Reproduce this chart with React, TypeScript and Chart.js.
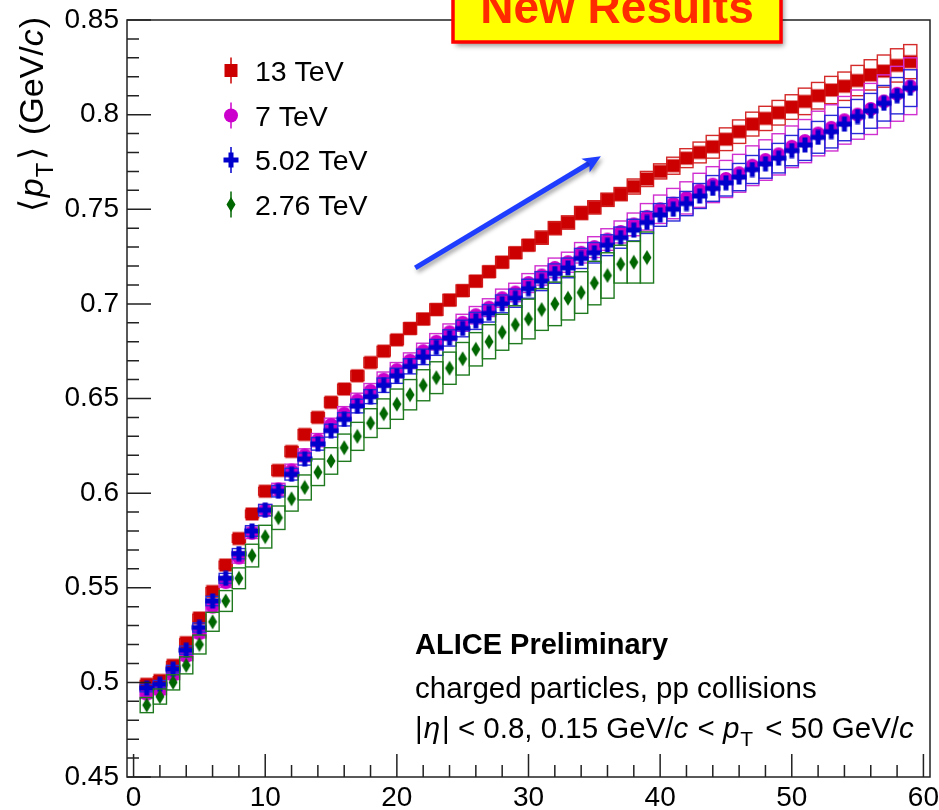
import React, { useEffect, useRef } from "react";
import { Chart, registerables } from "chart.js";

Chart.register(...registerables);

// ---------------- data ----------------
const multiplicityBins = [
  1, 2, 3, 4, 5, 6, 7, 8, 9, 10, 11, 12, 13, 14, 15, 16, 17, 18, 19, 20,
  21, 22, 23, 24, 25, 26, 27, 28, 29, 30, 31, 32, 33, 34, 35, 36, 37, 38, 39, 40,
  41, 42, 43, 44, 45, 46, 47, 48, 49, 50, 51, 52, 53, 54, 55, 56, 57, 58, 59,
];
const binHalfWidth = 0.5;

const meanPt13 = [
  0.499, 0.501, 0.509, 0.521, 0.534, 0.548, 0.562, 0.576, 0.589, 0.601,
  0.612, 0.622, 0.631, 0.640, 0.648, 0.655, 0.662, 0.669, 0.675, 0.681,
  0.687, 0.692, 0.697, 0.702, 0.707, 0.712, 0.717, 0.722, 0.727, 0.731,
  0.735, 0.740, 0.743, 0.748, 0.751, 0.755, 0.758, 0.762, 0.766, 0.770,
  0.773, 0.777, 0.780, 0.783, 0.787, 0.791, 0.795, 0.798, 0.801, 0.804,
  0.807, 0.810, 0.813, 0.815, 0.818, 0.821, 0.823, 0.826, 0.828,
];
const sys13 = [
  0.002, 0.002, 0.002, 0.002, 0.002, 0.002, 0.002, 0.002, 0.002, 0.002,
  0.0025, 0.0025, 0.0025, 0.0025, 0.0025, 0.0025, 0.0025, 0.0025, 0.0025, 0.0025,
  0.003, 0.003, 0.003, 0.003, 0.003, 0.003, 0.003, 0.003, 0.003, 0.003,
  0.0035, 0.0035, 0.0035, 0.0035, 0.0035, 0.0035, 0.0035, 0.004, 0.004, 0.004,
  0.0045, 0.005, 0.0055, 0.006, 0.006, 0.0062, 0.0063, 0.0064, 0.0065, 0.0065,
  0.007, 0.007, 0.0072, 0.0075, 0.008, 0.008, 0.0085, 0.0088, 0.009,
];

const meanPt7 = [
  0.494, 0.496, 0.504, 0.514, 0.526, 0.540, 0.553, 0.566, 0.579, 0.591,
  0.602, 0.612, 0.620, 0.628, 0.636, 0.642, 0.649, 0.654, 0.660, 0.665,
  0.670, 0.675, 0.680, 0.685, 0.690, 0.694, 0.698, 0.703, 0.706, 0.711,
  0.715, 0.719, 0.722, 0.727, 0.730, 0.734, 0.738, 0.742, 0.746, 0.750,
  0.753, 0.756, 0.760, 0.763, 0.766, 0.769, 0.773, 0.776, 0.779, 0.783,
  0.786, 0.790, 0.793, 0.797, 0.800, 0.803, 0.807, 0.811, 0.815,
];
const sys7 = [
  0.0025, 0.0025, 0.0025, 0.0025, 0.0025, 0.0028, 0.0028, 0.003, 0.003, 0.003,
  0.0032, 0.0033, 0.0034, 0.0035, 0.0036, 0.0037, 0.0038, 0.0039, 0.004, 0.004,
  0.0041, 0.0042, 0.0043, 0.0044, 0.0045, 0.0046, 0.0047, 0.0048, 0.0049, 0.005,
  0.0051, 0.0052, 0.0053, 0.0054, 0.0055, 0.0057, 0.0058, 0.006, 0.007, 0.0075,
  0.008, 0.0085, 0.009, 0.0095, 0.0098, 0.010, 0.0105, 0.0107, 0.0109, 0.011,
  0.0114, 0.0118, 0.0122, 0.0126, 0.013, 0.0135, 0.014, 0.0145, 0.015,
];

const meanPt502 = [
  0.497, 0.499, 0.507, 0.517, 0.529, 0.543, 0.555, 0.568, 0.580, 0.591,
  0.601, 0.610, 0.618, 0.626, 0.633, 0.639, 0.646, 0.651, 0.657, 0.662,
  0.667, 0.672, 0.677, 0.682, 0.687, 0.691, 0.695, 0.700, 0.703, 0.708,
  0.712, 0.716, 0.719, 0.724, 0.727, 0.731, 0.735, 0.739, 0.743, 0.747,
  0.750, 0.753, 0.757, 0.761, 0.764, 0.767, 0.771, 0.774, 0.777, 0.781,
  0.784, 0.788, 0.791, 0.795, 0.799, 0.802, 0.806, 0.810, 0.814,
];
const sys502 = [
  0.002, 0.002, 0.002, 0.0022, 0.0024, 0.0025, 0.0026, 0.0027, 0.0028, 0.003,
  0.003, 0.0031, 0.0032, 0.0033, 0.0034, 0.0035, 0.0036, 0.0037, 0.0038, 0.004,
  0.004, 0.0041, 0.0042, 0.0043, 0.0044, 0.0045, 0.0046, 0.0047, 0.0048, 0.005,
  0.005, 0.0051, 0.0052, 0.0053, 0.0054, 0.0055, 0.0056, 0.0057, 0.0058, 0.006,
  0.0062, 0.0064, 0.0066, 0.0068, 0.007, 0.0072, 0.0074, 0.0076, 0.0078, 0.008,
  0.0082, 0.0084, 0.0086, 0.0088, 0.009, 0.0092, 0.0094, 0.0096, 0.0097,
];

const meanPt276 = [
  0.488, 0.4925, 0.500, 0.509, 0.520, 0.532, 0.543, 0.555, 0.567, 0.577,
  0.587, 0.597, 0.603, 0.611, 0.617, 0.624, 0.630, 0.637, 0.642, 0.647,
  0.652, 0.657, 0.661, 0.666, 0.671, 0.676, 0.680, 0.685, 0.689, 0.692,
  0.697, 0.700, 0.703, 0.706, 0.711, 0.715, 0.721, 0.722, 0.7245,
];
const sys276 = [
  0.004, 0.004, 0.004, 0.0045, 0.005, 0.005, 0.0055, 0.0055, 0.006, 0.006,
  0.0062, 0.0065, 0.0066, 0.007, 0.007, 0.0072, 0.0074, 0.0076, 0.0078, 0.008,
  0.008, 0.0082, 0.0084, 0.0085, 0.0086, 0.0088, 0.009, 0.0095, 0.010, 0.0105,
  0.011, 0.0115, 0.0115, 0.011, 0.0115, 0.012, 0.010, 0.011, 0.0135,
];

const seriesLabels = ["13 TeV", "7 TeV", "5.02 TeV", "2.76 TeV"];
const xTickValues = [0, 10, 20, 30, 40, 50, 60];
const xTickLabels = ["0", "10", "20", "30", "40", "50", "60"];
const yTickValues = [0.45, 0.5, 0.55, 0.6, 0.65, 0.7, 0.75, 0.8, 0.85];
const yTickLabels = ["0.45", "0.5", "0.55", "0.6", "0.65", "0.7", "0.75", "0.8", "0.85"];
const arrowFrom = { x: 21.4, y: 0.719 };
const arrowTo = { x: 35.5, y: 0.778 };

// ---------------- styling ----------------
const FONT = "'Liberation Sans', Arial, Helvetica, sans-serif";
const SERIES = [
  { label: seriesLabels[0], values: meanPt13, sys: sys13, color: "#cc0000", box: "#d42a2a", marker: "square", order: 4 },
  { label: seriesLabels[1], values: meanPt7, sys: sys7, color: "#cc00cc", box: "#d030d0", marker: "circle", order: 3 },
  { label: seriesLabels[2], values: meanPt502, sys: sys502, color: "#0000cc", box: "#2a2ad8", marker: "cross", order: 2 },
  { label: seriesLabels[3], values: meanPt276, sys: sys276, color: "#006600", box: "#1f7a1f", marker: "diamond", order: 1 },
];

function drawShape(g: CanvasRenderingContext2D, kind: string, cx: number, cy: number) {
  g.beginPath();
  if (kind === "square") {
    g.rect(cx - 6.5, cy - 6.5, 13, 13);
  } else if (kind === "circle") {
    g.arc(cx, cy, 7, 0, Math.PI * 2);
  } else if (kind === "cross") {
    g.rect(cx - 7.5, cy - 2.5, 15, 5);
    g.rect(cx - 2.5, cy - 7.5, 5, 15);
  } else {
    g.moveTo(cx, cy - 7.5);
    g.lineTo(cx + 4.5, cy);
    g.lineTo(cx, cy + 7.5);
    g.lineTo(cx - 4.5, cy);
    g.closePath();
  }
  g.fill();
}

function makeMarker(kind: string, color: string) {
  const c = document.createElement("canvas");
  c.width = 16;
  c.height = 16;
  const g = c.getContext("2d")!;
  g.fillStyle = color;
  drawShape(g, kind, 8, 8);
  return c;
}

type Piece = { t: string; s: string; gap?: number };

function drawPieces(
  ctx: CanvasRenderingContext2D,
  pieces: Piece[],
  x: number,
  y: number,
  size: number,
  measureOnly = false
) {
  let cx = x;
  for (const p of pieces) {
    let font = `${size}px ${FONT}`;
    let dy = 0;
    if (p.s === "i") font = `italic ${size}px ${FONT}`;
    if (p.s === "sub") {
      font = `${Math.round(size * 0.7)}px ${FONT}`;
      dy = size * 0.28;
    }
    ctx.font = font;
    if (!measureOnly) ctx.fillText(p.t, cx, y + dy);
    cx += ctx.measureText(p.t).width + (p.gap || 0);
  }
  return cx - x;
}

const overlayPlugin = {
  id: "overlay",
  beforeDatasetDraw(chart: any, args: any) {
    const s = SERIES[args.index];
    if (!s) return;
    const xs = chart.scales.x;
    const ys = chart.scales.y;
    const ctx: CanvasRenderingContext2D = chart.ctx;
    ctx.save();
    ctx.strokeStyle = s.box;
    ctx.lineWidth = 1.4;
    s.values.forEach((v: number, k: number) => {
      const xv = multiplicityBins[k];
      const e = s.sys[k];
      const x0 = xs.getPixelForValue(xv - binHalfWidth);
      const x1 = xs.getPixelForValue(xv + binHalfWidth);
      const y0 = ys.getPixelForValue(v + e);
      const y1 = ys.getPixelForValue(v - e);
      ctx.strokeRect(x0, y0, x1 - x0, y1 - y0);
    });
    ctx.restore();
  },
  afterDraw(chart: any) {
    const ctx: CanvasRenderingContext2D = chart.ctx;
    const { left, right, top, bottom } = chart.chartArea;
    const xs = chart.scales.x;
    const ys = chart.scales.y;
    ctx.save();

    // frame
    ctx.strokeStyle = "#222";
    ctx.lineWidth = 1.5;
    ctx.strokeRect(left, top, right - left, bottom - top);

    // x ticks (inside)
    ctx.beginPath();
    for (let i = 0; i <= 30; i++) {
      const v = i * 2;
      const px = xs.getPixelForValue(v);
      const len = v % 10 === 0 ? 23 : 12;
      ctx.moveTo(px, bottom);
      ctx.lineTo(px, bottom - len);
    }
    // y ticks (inside)
    for (let i = 0; i <= 40; i++) {
      const v = 0.45 + i * 0.01;
      const py = ys.getPixelForValue(v);
      const len = i % 5 === 0 ? 24 : 12;
      ctx.moveTo(left, py);
      ctx.lineTo(left + len, py);
    }
    ctx.stroke();

    // y title
    ctx.save();
    ctx.fillStyle = "#000";
    ctx.textBaseline = "alphabetic";
    const titlePieces: Piece[] = [
      { t: "\u27E8", s: "n", gap: 2 },
      { t: "p", s: "i", gap: 1 },
      { t: "T", s: "sub", gap: 3 },
      { t: "\u27E9", s: "n", gap: 2 },
      { t: " (GeV/", s: "n" },
      { t: "c", s: "i", gap: 1 },
      { t: ")", s: "n" },
    ];
    const tw = drawPieces(ctx, titlePieces, 0, 0, 34, true);
    ctx.translate(43, 17);
    ctx.rotate(-Math.PI / 2);
    drawPieces(ctx, titlePieces, -tw, 0, 34);
    ctx.restore();

    // legend
    const legendY = [70.5, 115.5, 160, 204.5];
    SERIES.forEach((s, i) => {
      const cx = 231;
      const cy = legendY[i];
      ctx.strokeStyle = s.color;
      ctx.lineWidth = 1.5;
      ctx.beginPath();
      ctx.moveTo(cx, cy - 13);
      ctx.lineTo(cx, cy + 13);
      ctx.stroke();
      ctx.fillStyle = s.color;
      drawShape(ctx, s.marker, cx, cy);
      ctx.fillStyle = "#000";
      ctx.font = `28.5px ${FONT}`;
      ctx.textBaseline = "alphabetic";
      ctx.fillText(s.label, 255, cy + 10);
    });

    // ALICE text
    ctx.fillStyle = "#000";
    ctx.font = `bold 29px ${FONT}`;
    ctx.fillText("ALICE Preliminary", 415, 654);
    ctx.font = `29.5px ${FONT}`;
    ctx.fillText("charged particles, pp collisions", 415, 698);
    drawPieces(
      ctx,
      [
        { t: "|", s: "n", gap: 1 },
        { t: "\u03B7", s: "i", gap: 2 },
        { t: "| < 0.8, 0.15 GeV/", s: "n" },
        { t: "c", s: "i", gap: 1 },
        { t: " < ", s: "n" },
        { t: "p", s: "i", gap: 1 },
        { t: "T", s: "sub", gap: 4 },
        { t: " < 50 GeV/", s: "n" },
        { t: "c", s: "i" },
      ],
      415,
      738,
      29.5
    );

    // arrow
    const ax0 = xs.getPixelForValue(arrowFrom.x);
    const ay0 = ys.getPixelForValue(arrowFrom.y);
    const ax1 = xs.getPixelForValue(arrowTo.x);
    const ay1 = ys.getPixelForValue(arrowTo.y);
    const ang = Math.atan2(ay1 - ay0, ax1 - ax0);
    const headLen = 18;
    const headW = 8;
    ctx.save();
    ctx.shadowColor = "rgba(0,0,0,0.35)";
    ctx.shadowBlur = 4;
    ctx.shadowOffsetX = 2;
    ctx.shadowOffsetY = 3;
    ctx.strokeStyle = "#1f3dff";
    ctx.fillStyle = "#1f3dff";
    ctx.lineWidth = 5;
    ctx.beginPath();
    ctx.moveTo(ax0, ay0);
    ctx.lineTo(ax1 - Math.cos(ang) * headLen * 0.7, ay1 - Math.sin(ang) * headLen * 0.7);
    ctx.stroke();
    ctx.beginPath();
    ctx.moveTo(ax1, ay1);
    const bx = ax1 - Math.cos(ang) * headLen;
    const by = ay1 - Math.sin(ang) * headLen;
    ctx.lineTo(bx + Math.sin(ang) * headW, by - Math.cos(ang) * headW);
    ctx.lineTo(ax1 - Math.cos(ang) * headLen * 0.75, ay1 - Math.sin(ang) * headLen * 0.75);
    ctx.lineTo(bx - Math.sin(ang) * headW, by + Math.cos(ang) * headW);
    ctx.closePath();
    ctx.fill();
    ctx.restore();

    // New Results box
    ctx.save();
    ctx.shadowColor = "rgba(0,0,0,0.4)";
    ctx.shadowBlur = 5;
    ctx.shadowOffsetX = 3;
    ctx.shadowOffsetY = 4;
    ctx.fillStyle = "#ffff00";
    ctx.fillRect(453, -30, 328, 72);
    ctx.restore();
    ctx.strokeStyle = "#ff0000";
    ctx.lineWidth = 3.5;
    ctx.strokeRect(453, -30, 328, 72);
    ctx.fillStyle = "#ff2a00";
    ctx.font = `bold 46px ${FONT}`;
    ctx.textAlign = "center";
    ctx.fillText("New Results", 617, 23);

    ctx.restore();
  },
};

export default function App() {
  const ref = useRef<HTMLCanvasElement | null>(null);
  useEffect(() => {
    if (!ref.current) return;
    const datasets = SERIES.map((s) => ({
      label: s.label,
      data: s.values.map((v, k) => ({ x: multiplicityBins[k], y: v })),
      pointStyle: makeMarker(s.marker, s.color) as any,
      pointRadius: 7,
      pointHoverRadius: 7,
      borderWidth: 0,
      backgroundColor: s.color,
      borderColor: s.color,
      showLine: false,
      order: s.order,
    }));
    const chart = new Chart(ref.current, {
      type: "scatter",
      data: { datasets },
      options: {
        animation: false,
        responsive: false,
        devicePixelRatio: 1,
        events: [],
        layout: { padding: { top: 20, right: 9, left: 0, bottom: 0 } },
        plugins: { legend: { display: false }, tooltip: { enabled: false } },
        scales: {
          x: {
            type: "linear",
            min: -0.5,
            max: 60.5,
            grid: { display: false, drawTicks: false },
            border: { display: false },
            afterBuildTicks: (scale: any) => {
              scale.ticks = xTickValues.map((v) => ({ value: v }));
            },
            afterFit: (scale: any) => {
              scale.height = 33;
              scale.paddingLeft = 0;
              scale.paddingRight = 0;
            },
            ticks: {
              autoSkip: false,
              maxRotation: 0,
              padding: 4,
              color: "#000",
              font: { family: FONT, size: 28 },
              callback: (_v: any, i: number) => xTickLabels[i],
            },
          },
          y: {
            type: "linear",
            min: 0.45,
            max: 0.85,
            grid: { display: false, drawTicks: false },
            border: { display: false },
            afterBuildTicks: (scale: any) => {
              scale.ticks = yTickValues.map((v) => ({ value: v }));
            },
            afterFit: (scale: any) => {
              scale.width = 127;
              scale.paddingTop = 0;
              scale.paddingBottom = 0;
            },
            ticks: {
              autoSkip: false,
              padding: 8,
              color: "#000",
              font: { family: FONT, size: 28 },
              callback: (_v: any, i: number) => yTickLabels[i],
            },
          },
        },
      },
      plugins: [overlayPlugin],
    });
    return () => chart.destroy();
  }, []);
  return (
    <div style={{ position: "absolute", left: 0, top: 0, width: 939, height: 810, background: "#fff" }}>
      <canvas ref={ref} width={939} height={810} style={{ display: "block", width: 939, height: 810 }} />
    </div>
  );
}
